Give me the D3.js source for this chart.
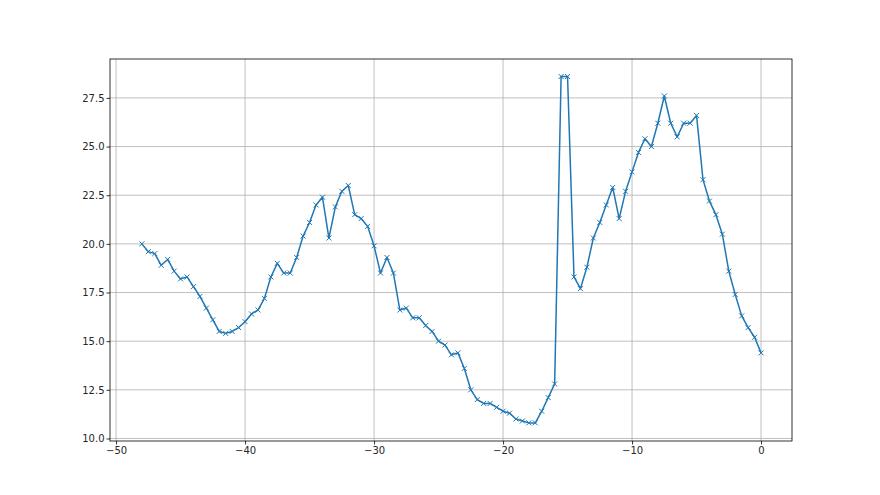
<!DOCTYPE html>
<html>
<head>
<meta charset="utf-8">
<script src="https://cdn.jsdelivr.net/npm/d3@7"></script>
<style>
  body { margin: 0; background: #fff; }
  svg { display: block; }
  .tick text { font-family: "DejaVu Sans", sans-serif; font-size: 10px; fill: #262626; }
</style>
</head>
<body>
<svg id="canvas"></svg>
<script>
const xStart = -48;
const xStep = 0.5;

const values = [
  20.0, 19.6, 19.5, 18.9, 19.2, 18.6, 18.2, 18.3, 17.8, 17.3, 16.7, 16.1, 15.5, 15.4, 15.5, 15.7, 16.0,
  16.4, 16.6, 17.2, 18.3, 19.0, 18.5, 18.5, 19.3, 20.4, 21.1, 22.0, 22.4, 20.3, 21.9, 22.7, 23.0, 21.5, 21.3, 20.9, 19.9,
  18.5, 19.3, 18.5, 16.6, 16.7, 16.2, 16.2, 15.8, 15.5, 15.0, 14.8, 14.3, 14.4, 13.6, 12.5, 12.0, 11.8, 11.8, 11.6, 11.4,
  11.3, 11.0, 10.9, 10.8, 10.8, 11.4, 12.1, 12.8, 28.6, 28.6, 18.3, 17.7, 18.8, 20.3, 21.1, 22.0, 22.9, 21.3, 22.7, 23.7,
  24.7, 25.4, 25.0, 26.2, 27.6, 26.2, 25.5, 26.2, 26.2, 26.6, 23.3, 22.2, 21.5, 20.5, 18.6, 17.4, 16.3, 15.7, 15.2, 14.4
];

const xTicks = [-50, -40, -30, -20, -10, 0];
const yTicks = [10.0, 12.5, 15.0, 17.5, 20.0, 22.5, 25.0, 27.5];

const width = 880;
const height = 495;
const margin = { left: 110, right: 88, top: 59, bottom: 54 };

const points = values.map((v, i) => ({ x: xStart + i * xStep, y: v }));

const canvas = d3.select('#canvas').attr('width', width).attr('height', height);

const xScale = d3.scaleLinear()
  .domain([-50.47, 2.4])
  .range([margin.left, width - margin.right]);

const yScale = d3.scaleLinear()
  .domain([9.87, 29.5])
  .range([height - margin.bottom, margin.top]);

const plotW = width - margin.left - margin.right;
const plotH = height - margin.top - margin.bottom;

// grid
const grid = canvas.append('g');
grid.selectAll('.gx')
  .data(xTicks)
  .enter()
  .append('line')
  .attr('x1', d => xScale(d)).attr('x2', d => xScale(d))
  .attr('y1', margin.top).attr('y2', height - margin.bottom)
  .attr('stroke', '#b0b0b0').attr('stroke-width', 0.8);
grid.selectAll('.gy')
  .data(yTicks)
  .enter()
  .append('line')
  .attr('x1', margin.left).attr('x2', width - margin.right)
  .attr('y1', d => yScale(d)).attr('y2', d => yScale(d))
  .attr('stroke', '#b0b0b0').attr('stroke-width', 0.8);

// line
const line = d3.line().x(d => xScale(d.x)).y(d => yScale(d.y));
canvas.append('path')
  .datum(points)
  .attr('fill', 'none')
  .attr('stroke', '#1f77b4')
  .attr('stroke-width', 1.5)
  .attr('stroke-linejoin', 'round')
  .attr('d', line);

// x markers
const s = 2.5;
canvas.append('g')
  .selectAll('path')
  .data(points)
  .enter()
  .append('path')
  .attr('d', d => {
    const cx = xScale(d.x), cy = yScale(d.y);
    return `M${cx - s},${cy - s}L${cx + s},${cy + s}M${cx - s},${cy + s}L${cx + s},${cy - s}`;
  })
  .attr('stroke', '#1f77b4')
  .attr('stroke-width', 1);

// axes
const xAxis = d3.axisBottom(xScale).tickValues(xTicks).tickSize(3.5).tickPadding(2)
  .tickFormat(d => d3.format('d')(d).replace('-', '\u2212'));
canvas.append('g')
  .attr('transform', `translate(0,${height - margin.bottom})`)
  .call(xAxis)
  .call(g => g.select('.domain').remove());

const yAxis = d3.axisLeft(yScale).tickValues(yTicks).tickSize(3.5).tickPadding(2)
  .tickFormat(d3.format('.1f'));
canvas.append('g')
  .attr('transform', `translate(${margin.left},0)`)
  .call(yAxis)
  .call(g => g.select('.domain').remove());

canvas.selectAll('.tick line').attr('stroke', '#000').attr('stroke-width', 0.8);

// frame
canvas.append('rect')
  .attr('x', margin.left).attr('y', margin.top)
  .attr('width', plotW).attr('height', plotH)
  .attr('fill', 'none').attr('stroke', '#000').attr('stroke-width', 0.8);
</script>
</body>
</html>
